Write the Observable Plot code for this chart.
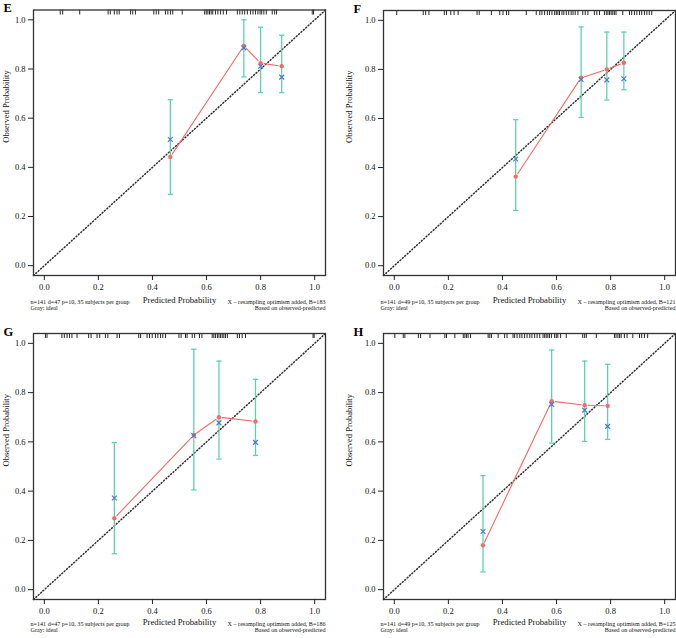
<!DOCTYPE html>
<html><head><meta charset="utf-8">
<script src="https://cdn.jsdelivr.net/npm/d3@7"></script>
<script src="https://cdn.jsdelivr.net/npm/@observablehq/plot@0.6"></script>
<style>
body{margin:0;background:#fff;}
#wrap{position:relative;width:676px;height:638px;overflow:hidden;background:#fff;}
#wrap svg{position:absolute;overflow:visible;background:transparent;}
</style></head><body><div id="wrap"></div>
<script>
// ---- data ----
const panelIds = ["E", "F", "G", "H"];
const axisTicks = [0, 0.2, 0.4, 0.6, 0.8, 1.0];
const axisDomain = [-0.04, 1.04];

const predE = [0.466, 0.738, 0.800, 0.878];
const obsE  = [0.442, 0.894, 0.824, 0.811];
const corrE = [0.513, 0.886, 0.811, 0.767];
const lowE  = [0.290, 0.768, 0.704, 0.704];
const highE = [0.675, 1.000, 0.970, 0.937];

const predF = [0.449, 0.691, 0.786, 0.849];
const obsF  = [0.363, 0.766, 0.800, 0.827];
const corrF = [0.435, 0.759, 0.757, 0.762];
const lowF  = [0.225, 0.604, 0.675, 0.717];
const highF = [0.595, 0.973, 0.952, 0.952];

const predG = [0.259, 0.553, 0.646, 0.781];
const obsG  = [0.290, 0.628, 0.700, 0.683];
const corrG = [0.372, 0.625, 0.677, 0.598];
const lowG  = [0.146, 0.405, 0.530, 0.545];
const highG = [0.597, 0.976, 0.928, 0.854];

const predH = [0.328, 0.582, 0.704, 0.789];
const obsH  = [0.180, 0.765, 0.749, 0.746];
const corrH = [0.236, 0.752, 0.729, 0.663];
const lowH  = [0.072, 0.595, 0.602, 0.610];
const highH = [0.463, 0.973, 0.928, 0.915];

const rugE = [0.059,0.068,0.131,0.236,0.244,0.259,0.269,0.277,0.319,0.327,0.337,0.405,0.414,0.423,0.448,0.457,0.467,0.475,0.510,0.593,0.599,0.605,0.611,0.617,0.623,0.633,0.642,0.652,0.662,0.674,0.714,0.723,0.732,0.741,0.751,0.763,0.772,0.781,0.790,0.798,0.804,0.812,0.821,0.843,0.852,0.859,0.991,0.996];
const rugF = [0.009,0.107,0.116,0.128,0.185,0.193,0.209,0.221,0.236,0.306,0.314,0.359,0.390,0.402,0.415,0.423,0.488,0.525,0.538,0.546,0.556,0.566,0.574,0.583,0.593,0.599,0.605,0.611,0.620,0.627,0.636,0.645,0.654,0.661,0.669,0.679,0.697,0.706,0.716,0.740,0.749,0.759,0.777,0.784,0.790,0.796,0.802,0.808,0.814,0.820,0.845,0.870,0.878,0.888,0.897,0.907,0.915,0.925,0.934,0.943,0.952];
const rugG = [0.004,0.010,0.065,0.074,0.084,0.093,0.102,0.121,0.164,0.173,0.195,0.205,0.226,0.235,0.269,0.278,0.349,0.356,0.380,0.389,0.399,0.411,0.420,0.430,0.438,0.448,0.498,0.506,0.522,0.528,0.547,0.556,0.574,0.583,0.621,0.627,0.633,0.640,0.646,0.652,0.658,0.664,0.670,0.677,0.714,0.722,0.732,0.744,0.994,0.998];
const rugH = [0.002,0.033,0.039,0.089,0.097,0.132,0.187,0.193,0.224,0.255,0.261,0.267,0.273,0.282,0.347,0.353,0.359,0.384,0.408,0.417,0.439,0.445,0.454,0.464,0.472,0.482,0.491,0.501,0.509,0.519,0.528,0.538,0.550,0.556,0.562,0.568,0.574,0.581,0.593,0.599,0.605,0.615,0.636,0.697,0.704,0.710,0.747,0.814,0.820,0.827,0.833,0.839,0.851,0.861,0.882,0.907,0.915,0.925,0.937];

const notesLeft1 = ["n=141 d=47 p=10, 35 subjects per group", "n=141 d=49 p=10, 35 subjects per group", "n=141 d=47 p=10, 35 subjects per group", "n=141 d=49 p=10, 35 subjects per group"];
const notesLeft2 = ["Gray: ideal", "Gray: ideal", "Gray: ideal", "Gray: ideal"];
const notesRight1 = ["X \u2013 resampling optimism added, B=183", "X \u2013 resampling optimism added, B=121", "X \u2013 resampling optimism added, B=186", "X \u2013 resampling optimism added, B=125"];
const notesRight2 = ["Based on observed-predicted", "Based on observed-predicted", "Based on observed-predicted", "Based on observed-predicted"];
const xTitle = "Predicted Probability";
const yTitle = "Observed Probability";

// ---- layout / style ----
const layouts = [
  {left: 0,   top: 0,   width: 338, height: 318, ml: 33, mr: 13, mt: 9.5, mb: 43, titleDy: 27.3, noteDy: 28.7},
  {left: 338, top: 0,   width: 338, height: 318, ml: 45, mr: 1,  mt: 10,  mb: 43, titleDy: 27.3, noteDy: 28.7},
  {left: 0,   top: 318, width: 338, height: 320, ml: 33, mr: 13, mt: 15,  mb: 39, titleDy: 25.5, noteDy: 26.5},
  {left: 338, top: 318, width: 338, height: 320, ml: 45, mr: 1,  mt: 15,  mb: 39, titleDy: 25.5, noteDy: 26.5}
];
const RED = "#F66A68", TEAL = "#5ED3AB", BLUE = "#4C79CC";
const FONT = "'Liberation Serif','Times New Roman',serif";

const series = [
  [predE, obsE, corrE, lowE, highE, rugE],
  [predF, obsF, corrF, lowF, highF, rugF],
  [predG, obsG, corrG, lowG, highG, rugG],
  [predH, obsH, corrH, lowH, highH, rugH]
];

const capSymbol = {
  draw(ctx, size) {
    const w = Math.sqrt(size / Math.PI);
    ctx.moveTo(-w, 0); ctx.lineTo(w, 0);
  }
};

const wrap = document.getElementById("wrap");
series.forEach(([pred, obs, corr, low, high, rug], i) => {
  const L = layouts[i];
  const rows = pred.map((p, j) => ({pred: p, obs: obs[j], corr: corr[j], low: low[j], high: high[j]}));
  const segs = rows.slice(1).map((r, j) => ({a: rows[j], b: r}));
  const frameH = L.height - L.mt - L.mb;
  const svg = Plot.plot({
    width: L.width, height: L.height,
    marginLeft: L.ml, marginRight: L.mr, marginTop: L.mt, marginBottom: L.mb,
    style: {fontFamily: FONT, fontSize: "8.5px", background: "transparent", color: "#111"},
    x: {domain: axisDomain, axis: null},
    y: {domain: axisDomain, axis: null},
    marks: [
      Plot.line(axisDomain, {x: d => d, y: d => d, stroke: "#333", strokeWidth: 1.5, strokeDasharray: "1,2.2"}),
      Plot.ruleX(rug, {x: d => d, insetBottom: frameH - 5, stroke: "#111", strokeWidth: 0.9}),
      Plot.ruleX(rows, {x: "pred", y1: "low", y2: "high", stroke: TEAL, strokeWidth: 1.3}),
      Plot.dot(rows, {x: "pred", y: "low", symbol: capSymbol, r: 2.6, fill: "none", stroke: TEAL, strokeWidth: 1.3}),
      Plot.dot(rows, {x: "pred", y: "high", symbol: capSymbol, r: 2.6, fill: "none", stroke: TEAL, strokeWidth: 1.3}),
      Plot.arrow(segs, {x1: d => d.a.pred, y1: d => d.a.obs, x2: d => d.b.pred, y2: d => d.b.obs, headLength: 0, insetStart: 3.5, insetEnd: 3.5, stroke: RED, strokeWidth: 1.1}),
      Plot.dot(rows, {x: "pred", y: "obs", r: 2.2, fill: RED, stroke: "none"}),
      Plot.dot(rows, {x: "pred", y: "corr", symbol: "times", r: 2.3, stroke: BLUE, strokeWidth: 1.2, fill: "none"}),
      Plot.frame({stroke: "#333", strokeWidth: 1.3}),
      Plot.axisX({ticks: axisTicks, tickFormat: d3.format(".1f"), tickSize: 5, tickPadding: 3, label: null, fontSize: 8.5, stroke: "#222"}),
      Plot.axisY({ticks: axisTicks, tickFormat: d3.format(".1f"), tickSize: 5, tickPadding: 3, label: null, fontSize: 8.5, stroke: "#222"}),
      Plot.text([panelIds[i]], {text: d => d, frameAnchor: "top-left", dx: -30, dy: 2, lineAnchor: "bottom", textAnchor: "start", fontWeight: "bold", fontSize: 12.5, fill: "#000"}),
      Plot.text([yTitle], {text: d => d, frameAnchor: "left", dx: i % 2 === 0 ? -27 : -34, rotate: -90, fontSize: 8.5, fill: "#111"}),
      Plot.text([xTitle], {text: d => d, frameAnchor: "bottom", dy: L.titleDy, fontSize: 8.7, fill: "#111"}),
      Plot.text([notesLeft1[i]], {text: d => d, frameAnchor: "bottom-left", dx: -3, dy: L.noteDy, textAnchor: "start", fontSize: 6.1, fill: "#111"}),
      Plot.text([notesLeft2[i]], {text: d => d, frameAnchor: "bottom-left", dx: -3, dy: L.noteDy + 5.5, textAnchor: "start", fontSize: 6.1, fill: "#111"}),
      Plot.text([notesRight1[i]], {text: d => d, frameAnchor: "bottom-right", dx: 0, dy: L.noteDy, textAnchor: "end", fontSize: 6.1, fill: "#111"}),
      Plot.text([notesRight2[i]], {text: d => d, frameAnchor: "bottom-right", dx: 0, dy: L.noteDy + 5.5, textAnchor: "end", fontSize: 6.1, fill: "#111"})
    ]
  });
  svg.style.left = L.left + "px";
  svg.style.top = L.top + "px";
  wrap.appendChild(svg);
});
</script></body></html>
